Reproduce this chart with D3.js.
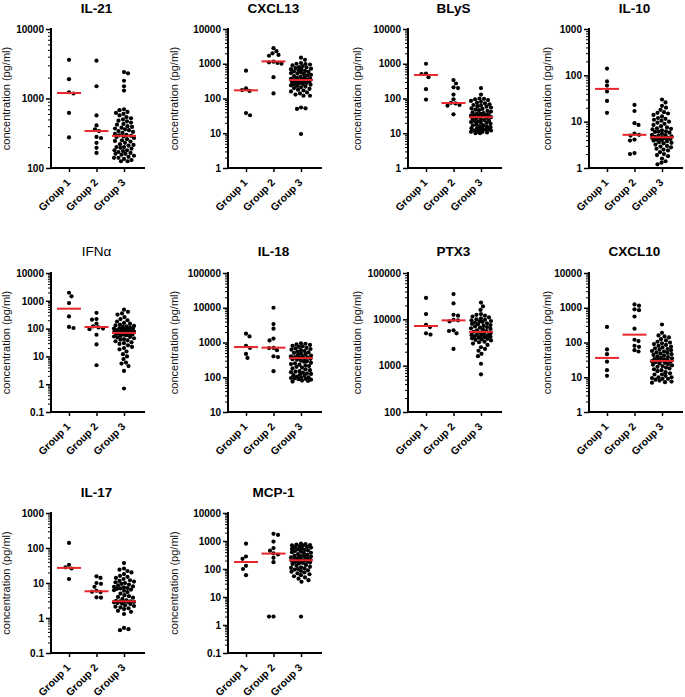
<!DOCTYPE html>
<html><head><meta charset="utf-8">
<script src="https://cdn.jsdelivr.net/npm/d3@7"></script>
<style>
html,body{margin:0;padding:0;background:#fff;}
svg{display:block;font-family:"Liberation Sans",Arial,sans-serif;}
</style></head>
<body>
<svg id="chart" width="685" height="697"></svg>
<script>
// ---------- DATA ----------
const groups = ["Group 1", "Group 2", "Group 3"];
const panelTitles = ["IL-21", "CXCL13", "BLyS", "IL-10", "IFNα", "IL-18", "PTX3", "CXCL10", "IL-17", "MCP-1"];
const yDomains = [[100, 10000], [1, 10000], [1, 10000], [1, 1000], [0.1, 10000], [10, 100000], [100, 100000], [1, 10000], [0.1, 1000], [0.1, 10000]];
const medians = [[1200, 340, 290], [172, 1170, 340], [475, 74, 29], [51, 5.2, 4.6], [520, 114, 70], [740, 710, 355], [7180, 9500, 5360], [36, 168, 29.5], [27, 5.8, 3.0], [178, 355, 205]];

const il21_g1 = [3600, 1900, 1230, 1180, 620, 275];
const il21_g2 = [3500, 1500, 570, 410, 360, 340, 280, 270, 230, 195, 165];
const il21_g3 = [2400, 2300, 1800, 1500, 1300, 700, 680, 640, 620, 600, 570, 540, 520, 500, 480, 470, 450, 430, 420, 400, 390, 380, 370, 360, 350, 340, 330, 320, 310, 300, 295, 290, 285, 280, 270, 260, 250, 245, 240, 230, 220, 215, 210, 200, 200, 195, 190, 180, 180, 175, 170, 165, 160, 160, 155, 150, 145, 140, 140, 135, 130, 125, 125];

const cxcl13_g1 = [630, 195, 175, 165, 38, 33];
const cxcl13_g2 = [2800, 2300, 2000, 1800, 1700, 1150, 1100, 1050, 1000, 410, 140];
const cxcl13_g3 = [1500, 1300, 1050, 1000, 980, 950, 900, 850, 800, 780, 750, 720, 700, 680, 650, 620, 600, 580, 560, 540, 520, 500, 480, 460, 440, 420, 400, 390, 380, 370, 360, 350, 340, 330, 320, 310, 300, 300, 290, 280, 270, 260, 260, 250, 240, 230, 220, 210, 200, 190, 180, 170, 160, 150, 140, 130, 120, 120, 55, 52, 50, 9.5];

const blys_g1 = [1000, 520, 500, 410, 185, 93];
const blys_g2 = [340, 270, 210, 200, 130, 95, 75, 72, 65, 62, 35];
const blys_g3 = [200, 130, 100, 98, 95, 90, 85, 80, 76, 72, 68, 65, 62, 60, 58, 55, 52, 50, 48, 46, 44, 42, 40, 38, 37, 36, 35, 34, 33, 32, 31, 30, 29, 28, 27, 26, 25, 24, 23, 22, 22, 21, 20, 20, 19, 18, 17, 17, 16, 15.5, 15, 14, 14, 13.5, 13, 13, 12.5, 12, 12, 11.5, 11, 11, 10.5, 10, 10];

const il10_g1 = [140, 74, 60, 45, 28, 15.5];
const il10_g2 = [23, 17, 9.3, 8.5, 5.5, 5.2, 5.0, 4.1, 3.9, 2.1, 2.0];
const il10_g3 = [30, 26, 22, 20, 18, 16, 15.5, 15, 14, 13, 12, 11.5, 11, 10.5, 10, 9.5, 9, 8.5, 8, 7.5, 7.2, 7, 6.8, 6.5, 6.2, 6.1, 6, 5.8, 5.5, 5.2, 5.1, 5, 4.8, 4.7, 4.6, 4.5, 4.5, 4.4, 4.3, 4.2, 4.1, 4, 3.9, 3.8, 3.6, 3.5, 3.4, 3.2, 3, 2.9, 2.8, 2.6, 2.5, 2.4, 2.2, 2, 1.9, 1.8, 1.6, 1.4, 1.3, 1.2];

const ifna_g1 = [1950, 1450, 830, 275, 115, 105];
const ifna_g2 = [370, 220, 210, 150, 120, 110, 100, 95, 60, 27, 4.8];
const ifna_g3 = [480, 400, 350, 320, 260, 220, 200, 180, 160, 150, 140, 130, 125, 120, 115, 110, 105, 100, 98, 95, 92, 90, 88, 85, 82, 80, 78, 75, 72, 70, 68, 66, 64, 62, 60, 58, 55, 52, 50, 48, 45, 42, 40, 38, 35, 32, 30, 28, 25, 22, 20, 18, 15, 12, 10, 8, 6, 5.5, 4.5, 3, 0.7];

const il18_g1 = [1800, 1500, 800, 700, 470, 360];
const il18_g2 = [10000, 3400, 2500, 1300, 1150, 700, 690, 600, 400, 380, 150];
const il18_g3 = [950, 920, 880, 850, 800, 780, 750, 700, 680, 650, 620, 600, 570, 550, 520, 500, 480, 460, 440, 420, 400, 390, 380, 370, 360, 350, 340, 330, 320, 300, 290, 280, 260, 250, 240, 230, 220, 210, 200, 190, 180, 170, 160, 150, 145, 140, 135, 130, 125, 120, 115, 110, 105, 100, 98, 95, 92, 90, 88, 85, 80, 78, 75];

const ptx3_g1 = [29000, 13000, 7600, 6800, 5000, 4700];
const ptx3_g2 = [35000, 22000, 12500, 12000, 9800, 9500, 9000, 5800, 5600, 5000, 2300];
const ptx3_g3 = [23000, 19000, 16000, 13000, 12500, 12000, 11500, 11000, 10500, 10000, 9800, 9500, 9200, 9000, 8800, 8500, 8200, 8000, 7800, 7500, 7200, 7000, 6800, 6600, 6400, 6200, 6000, 5800, 5600, 5400, 5200, 5000, 4800, 4700, 4600, 4500, 4400, 4300, 4200, 4100, 4000, 3900, 3800, 3700, 3600, 3500, 3300, 3200, 3000, 2800, 2500, 2300, 2100, 1800, 1600, 1100, 650];

const cxcl10_g1 = [280, 63, 46, 28, 16, 11];
const cxcl10_g2 = [1250, 1150, 900, 850, 560, 250, 120, 110, 80, 75, 60, 55];
const cxcl10_g3 = [330, 190, 160, 150, 140, 125, 115, 105, 100, 95, 90, 85, 80, 76, 72, 68, 65, 62, 60, 57, 55, 52, 50, 48, 46, 44, 42, 40, 38, 36, 35, 34, 33, 32, 31, 30, 29, 28, 27, 26, 25, 24, 23, 22, 21, 20, 19, 18, 17, 16, 15, 14, 13, 12, 12, 11, 10, 10, 9.5, 9, 9, 8.5, 8, 7.5, 7.2, 7];

const il17_g1 = [140, 33, 28, 26, 13];
const il17_g2 = [15.5, 14, 10, 9.5, 7.8, 6, 5.6, 5.5, 3.9, 3.8];
const il17_g3 = [37, 26, 24, 22, 20, 18, 16, 15, 14, 13, 12, 11.5, 11, 10.5, 10, 9.5, 9, 8.5, 8, 7.8, 7.5, 7.2, 7, 6.8, 6.5, 6.2, 6, 5.5, 5, 4.5, 4.2, 4, 3.8, 3.5, 3.2, 3.1, 3.0, 3.0, 2.9, 2.9, 2.8, 2.8, 2.7, 2.6, 2.5, 2.3, 2.2, 2.1, 2, 1.9, 1.8, 1.6, 1.5, 1.3, 0.52, 0.48, 0.45];

const mcp1_g1 = [800, 280, 230, 130, 100, 60];
const mcp1_g2 = [1800, 1650, 950, 560, 450, 360, 330, 250, 175, 2, 2];
const mcp1_g3 = [800, 780, 750, 720, 700, 680, 650, 620, 600, 580, 550, 520, 500, 480, 460, 440, 420, 400, 380, 360, 340, 320, 300, 290, 280, 270, 260, 250, 240, 230, 220, 210, 200, 195, 190, 185, 180, 175, 170, 165, 160, 150, 140, 130, 120, 115, 110, 105, 100, 95, 90, 85, 80, 75, 70, 65, 60, 55, 50, 45, 40, 35, 2];

const panelData = [
  [il21_g1, il21_g2, il21_g3], [cxcl13_g1, cxcl13_g2, cxcl13_g3], [blys_g1, blys_g2, blys_g3], [il10_g1, il10_g2, il10_g3],
  [ifna_g1, ifna_g2, ifna_g3], [il18_g1, il18_g2, il18_g3], [ptx3_g1, ptx3_g2, ptx3_g3], [cxcl10_g1, cxcl10_g2, cxcl10_g3],
  [il17_g1, il17_g2, il17_g3], [mcp1_g1, mcp1_g2, mcp1_g3]
];

// ---------- LAYOUT ----------
const colAxisX = [51, 228, 408, 589];
const colLabelX = [7, 175, 358, 548];
const rowTop = [29, 273, 513];
const rowBottom = [168, 412, 653];
const rowTitleY = [13, 256, 497];
const plotW = 94;
const red = "#e8262b";

const svg = d3.select("#chart");

// bounded beeswarm: free slot if possible within ±maxW, otherwise least-overlapping slot
function swarm(vals, y, cx, diam, maxW) {
  const pts = vals.map(v => ({ v, y: y(v) })).sort((a, b) => a.y - b.y);
  const placed = [];
  const cands = [0];
  for (let k = 1; k * 0.5 <= maxW; k++) cands.push(k * 0.5, -k * 0.5);
  pts.forEach((p, i) => {
    let best = null, bestScore = -1;
    for (let c = 0; c < cands.length; c++) {
      const o = (i % 2 ? 1 : -1) * cands[c];
      let md = Infinity;
      for (const q of placed) {
        const d = Math.hypot(q.x - o, q.y - p.y);
        if (d < md) md = d;
      }
      if (md >= diam) { best = o; break; }
      if (md > bestScore + 0.3) { bestScore = md; best = o; }
    }
    p.x = cx + best;
    placed.push({ x: best, y: p.y });
  });
  return pts;
}

const fmt = v => v >= 1 ? d3.format("d")(v) : String(v);

panelTitles.forEach((title, i) => {
  const row = Math.floor(i / 4), col = i % 4;
  const ax = colAxisX[col], top = rowTop[row], bot = rowBottom[row];
  const y = d3.scaleLog().domain(yDomains[i]).range([bot, top]);
  const x = d3.scalePoint().domain(groups).range([ax + 18, ax + 73]);
  const g = svg.append("g");

  // title
  g.append("text").attr("x", x("Group 2")).attr("y", rowTitleY[row])
    .attr("text-anchor", "middle").attr("font-size", 13.5)
    .attr("font-weight", title === "IFNα" ? "normal" : "bold")
    .attr("fill", "#000").text(title);

  // y label
  g.append("text")
    .attr("transform", `translate(${colLabelX[col] + 3},${(top + bot) / 2}) rotate(-90)`)
    .attr("text-anchor", "middle").attr("font-size", 11).attr("fill", "#111")
    .text("concentration (pg/ml)");

  // y axis with major + minor ticks
  const [lo, hi] = yDomains[i];
  const majors = [];
  for (let e = Math.round(Math.log10(lo)); e <= Math.round(Math.log10(hi)); e++) majors.push(Math.pow(10, e));
  const minors = [];
  majors.slice(0, -1).forEach(m => { for (let k = 2; k <= 9; k++) minors.push(m * k); });

  const yAxis = d3.axisLeft(y).tickValues(majors).tickFormat(fmt).tickSize(5).tickPadding(2);
  const ya = g.append("g").attr("transform", `translate(${ax},0)`).call(yAxis);
  ya.select(".domain").attr("stroke", "#000").attr("stroke-width", 2).attr("d", `M0,${top - 1}V${bot + 1}`);
  ya.selectAll(".tick line").attr("stroke", "#000").attr("stroke-width", 1.5);
  ya.selectAll(".tick text").attr("font-size", 10).attr("font-weight", "bold").attr("fill", "#000")
    .attr("font-family", '"Liberation Sans",Arial,sans-serif');
  const yMinor = d3.axisLeft(y).tickValues(minors).tickFormat("").tickSize(3);
  const ym = g.append("g").attr("transform", `translate(${ax},0)`).call(yMinor);
  ym.select(".domain").remove();
  ym.selectAll(".tick line").attr("stroke", "#000").attr("stroke-width", 1);

  // x axis
  const xAxis = d3.axisBottom(x).tickSize(4).tickFormat("");
  const xa = g.append("g").attr("transform", `translate(0,${bot})`).call(xAxis);
  xa.select(".domain").attr("stroke", "#000").attr("stroke-width", 2).attr("d", `M${ax - 1},0H${ax + plotW}`);
  xa.selectAll(".tick line").attr("stroke", "#000").attr("stroke-width", 1.5);
  groups.forEach(gr => {
    g.append("text")
      .attr("transform", `translate(${x(gr) - 3},${bot + 10}) rotate(-45)`)
      .attr("text-anchor", "end").attr("dy", "0.7em")
      .attr("font-size", 10.5).attr("font-weight", "bold").attr("fill", "#000")
      .text(gr);
  });

  // dots
  panelData[i].forEach((vals, gi) => {
    const pts = swarm(vals, y, x(groups[gi]), 4.2, gi === 2 ? 10 : 8);
    g.selectAll(null).data(pts).enter().append("circle")
      .attr("cx", d => d.x).attr("cy", d => d.y).attr("r", 2.1).attr("fill", "#000");
  });

  // medians
  medians[i].forEach((m, gi) => {
    g.append("line")
      .attr("x1", x(groups[gi]) - 12).attr("x2", x(groups[gi]) + 12)
      .attr("y1", y(m)).attr("y2", y(m))
      .attr("stroke", red).attr("stroke-width", 2);
  });
});
</script>
</body></html>
